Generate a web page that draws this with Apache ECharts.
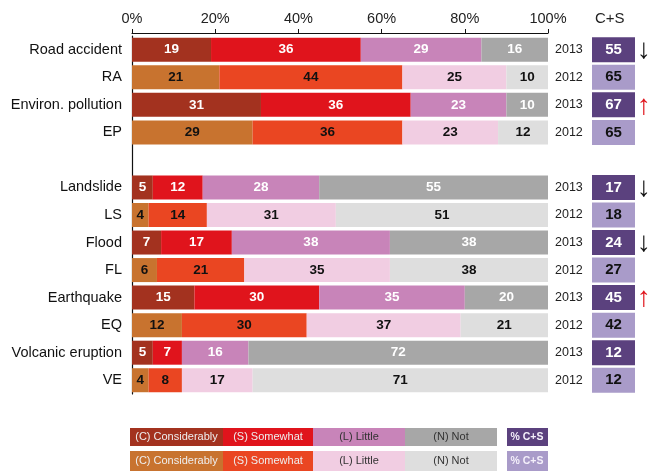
<!DOCTYPE html>
<html>
<head>
<meta charset="utf-8">
<script src="https://cdn.jsdelivr.net/npm/echarts@6/dist/echarts.min.js"></script>
<style>
html,body{margin:0;padding:0;background:#fff;}
#c{width:649px;height:474px;}
</style>
</head>
<body>
<div id="c"></div>
<script>
// ---- data ----
const rowKeys = ['RA13','RA12','EP13','EP12','gap','LS13','LS12','FL13','FL12','EQ13','EQ12','VE13','VE12'];
const rowNames = ['Road accident','RA','Environ. pollution','EP','','Landslide','LS','Flood','FL','Earthquake','EQ','Volcanic eruption','VE'];
const rowYears = ['2013','2012','2013','2012','','2013','2012','2013','2012','2013','2012','2013','2012'];
const considerably = [19,21,31,29,null,5,4,7,6,15,12,5,4];
const somewhat     = [36,44,36,36,null,12,14,17,21,30,30,7,8];
const little       = [29,25,23,23,null,28,31,38,35,35,37,16,17];
const notAtAll     = [16,10,10,12,null,55,51,38,38,20,21,72,71];
const cPlusS       = [55,65,67,65,null,17,18,24,27,45,42,12,12];
const seriesNames  = ['(C) Considerably','(S) Somewhat','(L) Little','(N) Not'];
const xMin = 0, xMax = 100, xStep = 20;

// ---- styles ----
const colors = {
  '2013': ['#a3321f','#e0141c','#c884b9','#a7a7a7'],
  '2012': ['#c8732f','#ea4622','#f1cde2','#dedede']
};
const labelColor = {'2013':'#ffffff','2012':'#111111'};
const boxColor = {'2013':'#5b417e','2012':'#a99bc9'};
const FONT = "'Liberation Sans', Arial, sans-serif";
const NARROW = "'Liberation Sans Narrow', 'Liberation Sans', Arial, sans-serif";

const allSeries = [considerably, somewhat, little, notAtAll];

function buildData(arr, k){
  return arr.map((v,i)=>{
    const yr = rowYears[i];
    if (v === null) return {value: null};
    return {
      value: v,
      itemStyle: {color: colors[yr][k]},
      label: {color: labelColor[yr]}
    };
  });
}

const chart = echarts.init(document.getElementById('c'), null, {renderer:'canvas'});

const option = {
  backgroundColor: '#ffffff',
  animation: false,
  grid: {left: 132, right: 101, top: 36, bottom: 80, containLabel: false},
  xAxis: {
    type: 'value', position: 'top', min: xMin, max: xMax, interval: xStep, offset: 3,
    axisLine: {show: true, lineStyle: {color: '#111', width: 1.2}},
    axisTick: {show: true, length: 4, lineStyle: {color: '#111'}},
    splitLine: {show: false},
    axisLabel: {formatter: '{value}%', fontSize: 14.5, color: '#222', fontFamily: FONT, margin: 7}
  },
  yAxis: [
    {
      type: 'category', inverse: true, data: rowKeys,
      axisLine: {show: true, lineStyle: {color: '#111', width: 1.2}},
      axisTick: {show: false},
      axisLabel: {
        formatter: (v, i) => rowNames[i],
        fontSize: 14.5, color: '#111', fontFamily: FONT, margin: 10
      }
    },
    {
      type: 'category', inverse: true, data: rowKeys, position: 'right',
      axisLine: {show: false}, axisTick: {show: false},
      axisLabel: {
        margin: 7,
        formatter: (v, i) => {
          const yr = rowYears[i];
          if (!yr) return '';
          return '{yr|' + yr + '}{b' + yr + '|' + cPlusS[i] + '}';
        },
        rich: {
          yr: {width: 37, fontSize: 12.5, color: '#222', fontFamily: FONT, align: 'left'},
          b2013: {width: 43, height: 25, lineHeight: 25, align: 'center', backgroundColor: boxColor['2013'],
                  color: '#fff', fontWeight: 'bold', fontSize: 15, fontFamily: NARROW},
          b2012: {width: 43, height: 25, lineHeight: 25, align: 'center', backgroundColor: boxColor['2012'],
                  color: '#111', fontWeight: 'bold', fontSize: 15, fontFamily: NARROW}
        }
      }
    }
  ],
  series: allSeries.map((arr, k) => ({
    name: seriesNames[k],
    type: 'bar', stack: 'total', barWidth: 24,
    yAxisIndex: 0,
    data: buildData(arr, k),
    label: {show: true, position: 'inside', formatter: '{c}', fontWeight: 'bold', fontSize: 13.5, fontFamily: NARROW}
  }))
};
chart.setOption(option);

// arrows derived from change in C+S (2013 vs 2012), positioned through the axis scale
const arrowGraphics = [];
for (let i = 0; i < rowKeys.length - 1; i++) {
  if (rowYears[i] === '2013' && rowYears[i+1] === '2012') {
    const d = cPlusS[i] - cPlusS[i+1];
    if (d === 0) continue;
    const y = chart.convertToPixel({yAxisIndex: 0}, rowKeys[i]);
    arrowGraphics.push({
      type: 'text', left: 637, top: y - 13,
      style: {text: d < 0 ? '↓' : '↑', fontSize: 28, fill: d < 0 ? '#111' : '#e0141c', fontFamily: FONT}
    });
  }
}

// legend blocks
const legendRows = [
  {y: 428, h: 18, yr: '2013'},
  {y: 451, h: 20, yr: '2012'}
];
const legendCols = [[130, 93], [223, 90], [313, 92], [405, 92]];
const legendText = ['#eeeeee', '#eeeeee', '#333333', '#333333'];
const legendG = [];
legendRows.forEach(r => {
  legendCols.forEach((c, k) => {
    legendG.push({type: 'rect', shape: {x: c[0], y: r.y, width: c[1], height: r.h}, style: {fill: colors[r.yr][k]}});
    legendG.push({type: 'text', x: c[0] + c[1] / 2, y: r.y + r.h / 2,
      style: {text: seriesNames[k], fontSize: 11, fill: legendText[k], fontFamily: FONT, align: 'center', verticalAlign: 'middle'}});
  });
  legendG.push({type: 'rect', shape: {x: 507, y: r.y, width: 41, height: r.h}, style: {fill: boxColor[r.yr]}});
  legendG.push({type: 'text', x: 527, y: r.y + r.h / 2,
    style: {text: '% C+S', fontSize: 10.5, fontWeight: 'bold', fill: '#f4f0fa', fontFamily: FONT, align: 'center', verticalAlign: 'middle'}});
});

chart.setOption({
  graphic: [
    {type: 'text', left: 595, top: 11, style: {text: 'C+S', fontSize: 15, fill: '#222', fontFamily: FONT}}
  ].concat(arrowGraphics, legendG)
});
</script>
</body>
</html>
